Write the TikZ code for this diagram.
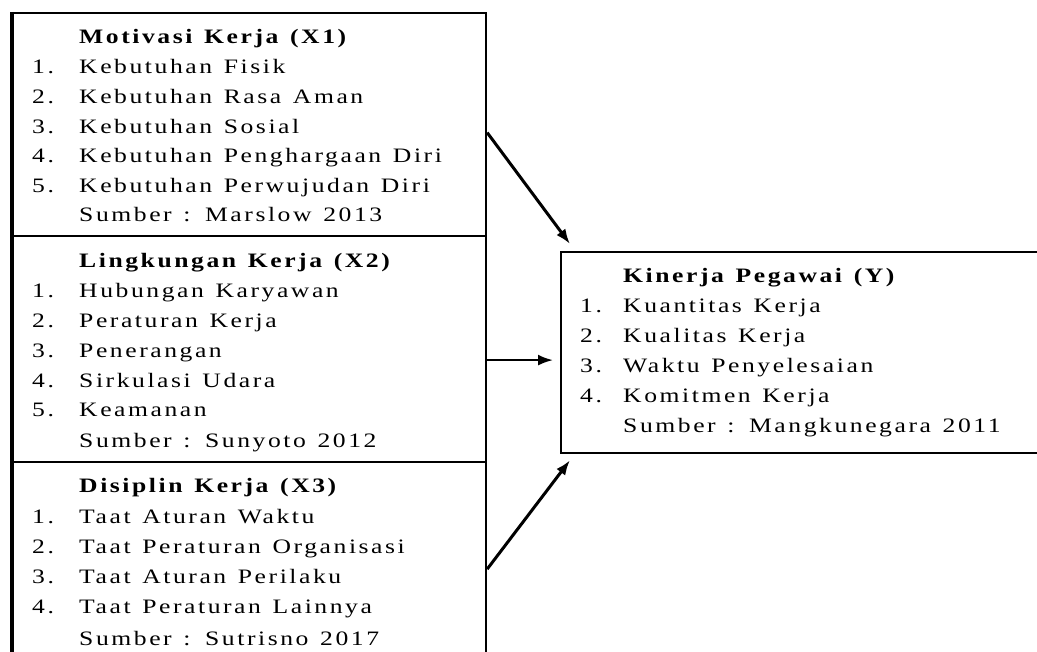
\documentclass[tikz,border=0pt]{standalone}
\usepackage{fontspec}
\setmainfont{Liberation Serif}[FakeStretch=1.25,LetterSpace=12.5,WordSpace=1.3]
\usetikzlibrary{arrows.meta}
\begin{document}
\begin{tikzpicture}[x=1pt, y=-1pt, >={Latex[length=15pt,width=11pt]},
    kotak/.style={draw, line width=2.2pt, inner sep=0pt, anchor=north west},
    teks/.style={anchor=base west, inner sep=0pt, font=\fontsize{20.5}{20.5}\selectfont},
    judul/.style={teks, font=\fontsize{20.5}{20.5}\selectfont\bfseries}]
\useasboundingbox (0,0) rectangle (1037,652);

% kotak variabel
\node[kotak, minimum width=473pt, minimum height=223pt] (x1) at (12,12) {};
\node[kotak, minimum width=473pt, minimum height=226pt] (x2) at (12,235) {};
\node[kotak, minimum width=473pt, minimum height=219pt] (x3) at (12,461) {};
\node[kotak, minimum width=490pt, minimum height=201pt] (y) at (560,251) {};
\draw[line width=3.5pt] (x1.north west) -- (x3.south west);

% X1
\node[judul] (j1) at (79,44) {Motivasi Kerja (X1)};
\foreach \t [count=\i] in {Kebutuhan Fisik, Kebutuhan Rasa Aman, Kebutuhan Sosial,
    Kebutuhan Penghargaan Diri, Kebutuhan Perwujudan Diri}
{
    \node[teks] (n1\i) at (32,44+29.7*\i) {\i.};
    \node[teks] (a1\i) at (79,44+29.7*\i) {\t};
}
\node[teks] (s1) at (79,222) {Sumber : Marslow 2013};

% X2
\node[judul] (j2) at (79,268) {Lingkungan Kerja (X2)};
\foreach \t [count=\i] in {Hubungan Karyawan, Peraturan Kerja, Penerangan,
    Sirkulasi Udara, Keamanan}
{
    \node[teks] (n2\i) at (32,268+29.8*\i) {\i.};
    \node[teks] (a2\i) at (79,268+29.8*\i) {\t};
}
\node[teks] (s2) at (79,447) {Sumber : Sunyoto 2012};

% X3
\node[judul] (j3) at (79,493) {Disiplin Kerja (X3)};
\foreach \t [count=\i] in {Taat Aturan Waktu, Taat Peraturan Organisasi,
    Taat Aturan Perilaku, Taat Peraturan Lainnya}
{
    \node[teks] (n3\i) at (32,493+30.2*\i) {\i.};
    \node[teks] (a3\i) at (79,493+30.2*\i) {\t};
}
\node[teks] (s3) at (79,645) {Sumber : Sutrisno 2017};

% Y
\node[judul] (jy) at (623,283) {Kinerja Pegawai (Y)};
\foreach \t [count=\i] in {Kuantitas Kerja, Kualitas Kerja, Waktu Penyelesaian,
    Komitmen Kerja}
{
    \node[teks] (ny\i) at (580,283+30*\i) {\i.};
    \node[teks] (ay\i) at (623,283+30*\i) {\t};
}
\node[teks] (sy) at (623,433) {Sumber : Mangkunegara 2011};

% panah
\draw[->, line width=3pt] ([yshift=-8pt]x1.east) -- ([xshift=10pt,yshift=7pt]y.north west);
\draw[->, line width=2.2pt] ([yshift=-11pt]x2.east) -- ([xshift=-7pt,yshift=-7.5pt]y.west);
\draw[->, line width=3pt] ([yshift=2.5pt]x3.east) -- ([xshift=10pt,yshift=-6pt]y.south west);

\end{tikzpicture}
\end{document}
